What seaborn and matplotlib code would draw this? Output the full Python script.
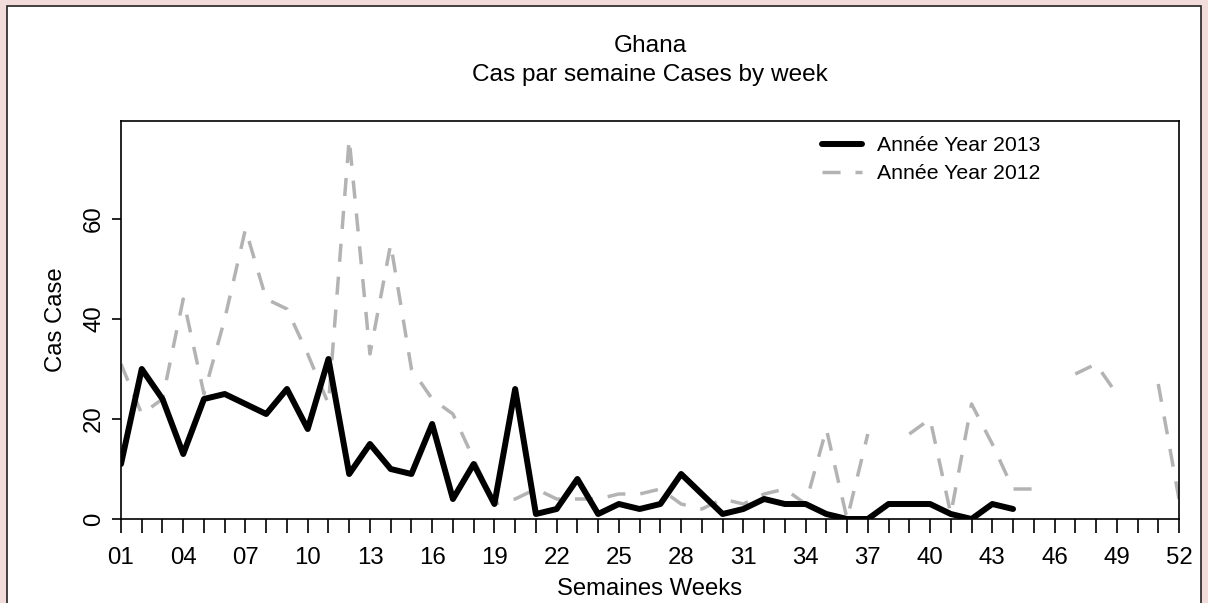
import numpy as np
import matplotlib
matplotlib.use("Agg")
import matplotlib.pyplot as plt
import seaborn as sns
from matplotlib.patches import Rectangle

# weekly case counts
weeks_2013 = list(range(1, 45))
cases_2013 = [11, 30, 24, 13, 24, 25, 23, 21, 26, 18, 32, 9, 15, 10, 9, 19, 4, 11, 3, 26,
              1, 2, 8, 1, 3, 2, 3, 9, 5, 1, 2, 4, 3, 3, 1, 0, 0, 3, 3, 3, 1, 0, 3, 2]
weeks_2012 = list(range(1, 53))
cases_2012 = [31, 21, 24, 44, 25, 40, 58, 44, 42, 33, 23, 76, 33, 55, 30, 24, 21, 12, 3, 4,
              6, 4, 4, 4, 5, 5, 6, 3, 2, 4, 3, 5, 6, 3, 18, 0, 17, np.nan, 17, 20,
              1, 23, 15, 6, 6, np.nan, 29, 31, 25, np.nan, 27, 4]

label_2013 = "Année Year 2013"
label_2012 = "Année Year 2012"
week_ticks = list(range(1, 53))
week_labels = [f"{w:02d}" if (w - 1) % 3 == 0 else "" for w in week_ticks]
y_ticks = [0, 20, 40, 60]

title = "Ghana\nCas par semaine Cases by week"
xlabel = "Semaines Weeks"
ylabel = "Cas Case"


def runs(x, y):
    # split a series into pieces at missing weeks so the gaps stay open
    x = np.asarray(x, dtype=float)
    y = np.asarray(y, dtype=float)
    ok = ~np.isnan(y)
    pieces, start = [], None
    for i, good in enumerate(ok):
        if good and start is None:
            start = i
        if not good and start is not None:
            pieces.append((x[start:i], y[start:i]))
            start = None
    if start is not None:
        pieces.append((x[start:], y[start:]))
    return pieces


sns.set_style("white")
plt.rcParams["font.family"] = ["Liberation Sans", "DejaVu Sans"]
plt.rcParams.update({"text.color": "black", "axes.labelcolor": "black",
                     "xtick.color": "black", "ytick.color": "black"})

W, H = 1208, 603
fig = plt.figure(figsize=(W / 100, H / 100), dpi=100)
fig.patch.set_facecolor("#f2dcdb")
fig.patches.append(Rectangle((6.5 / W, -0.05), (1201 - 6.5) / W, 1.05 - 6.5 / H,
                             transform=fig.transFigure, facecolor="white",
                             edgecolor="#222222", linewidth=1.2, zorder=-5))

ax = fig.add_axes([121 / W, 1 - 519 / H, 1058 / W, 398 / H])
ax.set_zorder(2)
ax.set_facecolor("white")

gray = "#b3b3b3"
for i, (xs, ys) in enumerate(runs(weeks_2012, cases_2012)):
    sns.lineplot(x=xs, y=ys, ax=ax, color=gray, linewidth=2.5,
                 linestyle=(0, (5.2, 4.3)), dash_capstyle="butt",
                 label=label_2012 if i == 0 else None, legend=False)

sns.lineplot(x=weeks_2013, y=cases_2013, ax=ax, color="black", linewidth=4.3,
             label=label_2013, legend=False)

ax.set_xlim(1, 52)
ax.set_ylim(0, 79.6)
ax.set_xticks(week_ticks)
ax.set_xticklabels(week_labels)
ax.set_yticks(y_ticks)
ax.set_yticklabels([str(v) for v in y_ticks])

for s in ax.spines.values():
    s.set_visible(True)
    s.set_color("black")
    s.set_linewidth(1.2)

ax.tick_params(axis="x", direction="out", length=10, width=1.2, color="black",
               pad=10.5, labelsize=17.3, labelcolor="black", bottom=True)
ax.tick_params(axis="y", direction="out", length=6.5, width=1.2, color="black",
               pad=5, labelsize=17.3, labelcolor="black", left=True, labelrotation=90)
for t in ax.get_yticklabels():
    t.set_verticalalignment("center")

ax.set_title(title, fontsize=17.6, pad=29, linespacing=1.4, color="black")
ax.set_xlabel(xlabel, fontsize=17.2, color="black")
ax.set_ylabel(ylabel, fontsize=17.2, color="black")
ax.xaxis.set_label_coords(0.5, -0.147)
ax.yaxis.set_label_coords(-0.051, 0.5)

handles, labels = ax.get_legend_handles_labels()
order = [labels.index(label_2013), labels.index(label_2012)]
leg = ax.legend([handles[k] for k in order], [labels[k] for k in order],
                loc="upper left", bbox_to_anchor=(0.6626, 0.962), frameon=False,
                fontsize=15.3, handlelength=1.9, handletextpad=0.67,
                labelspacing=0.42, borderpad=0, borderaxespad=0)
for t in leg.get_texts():
    t.set_color("black")

fig.savefig("out.png", dpi=100, facecolor=fig.get_facecolor())
